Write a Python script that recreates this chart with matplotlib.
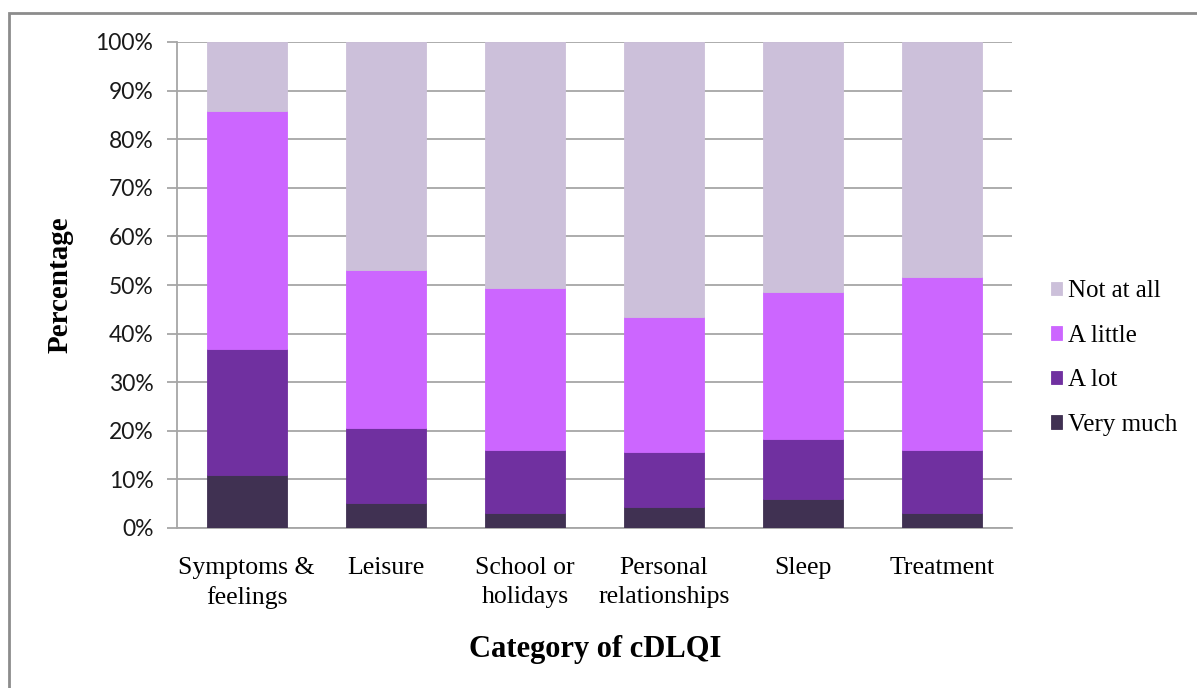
import matplotlib
matplotlib.use("Agg")
import matplotlib.pyplot as plt
import numpy as np
from matplotlib.patches import Rectangle
from matplotlib.ticker import FuncFormatter

categories = ["Symptoms &\nfeelings", "Leisure", "School or\nholidays",
              "Personal\nrelationships", "Sleep", "Treatment"]
series_names = ["Very much", "A lot", "A little", "Not at all"]
very_much = [11.0, 5.2, 3.0, 4.3, 5.9, 3.1]
a_lot = [25.9, 15.4, 13.1, 11.3, 12.5, 13.0]
a_little = [48.8, 32.5, 33.2, 27.9, 30.2, 35.5]
not_at_all = [14.3, 46.9, 50.7, 56.5, 51.4, 48.4]
colors = ["#403152", "#7030A0", "#CC66FF", "#CCC0DA"]

W, H = 1197, 688
fig = plt.figure(figsize=(W / 100, H / 100), dpi=100)
ax = fig.add_axes([177 / W, (H - 528) / H, (1012 - 177) / W, (528 - 42) / H])

serif = ["Liberation Serif", "DejaVu Serif"]
grid_c = "#A6A6A6"

x = np.arange(len(categories))
bottom = np.zeros(len(categories))
handles = []
for name, vals, c in zip(series_names, [very_much, a_lot, a_little, not_at_all], colors):
    vals = np.array(vals)
    b = ax.bar(x, vals, 0.575, bottom=bottom, color=c, edgecolor=c,
               linewidth=0.6, zorder=3, label=name)
    handles.append(b)
    bottom += vals

ax.set_xlim(-0.5, len(categories) - 0.5)
ax.set_ylim(0, 100)
ax.set_yticks(np.arange(0, 101, 10))
ax.yaxis.set_major_formatter(FuncFormatter(lambda v, p: f"{int(v)}%"))
ax.grid(axis="y", color=grid_c, linewidth=1.3, zorder=0)
for s in ["top", "right"]:
    ax.spines[s].set_visible(False)
ax.spines["left"].set_color(grid_c)
ax.spines["left"].set_linewidth(1.3)
ax.spines["bottom"].set_color(grid_c)
ax.spines["bottom"].set_linewidth(1.3)
ax.tick_params(axis="y", length=7, width=1.3, color=grid_c, pad=10,
               labelsize=16.5, labelcolor="#1a1a1a")
ax.tick_params(axis="x", length=0, pad=21)
for lab in ax.get_yticklabels():
    lab.set_family(["Lato", "DejaVu Sans"])
ax.set_xticks(x)
ax.set_xticklabels(categories, fontsize=18.5, family=serif, linespacing=1.4)

fig.text(60 / W, 1 - 285 / H, "Percentage", rotation=90, fontsize=21,
         fontweight="bold", family=serif, ha="center", va="center")
fig.text(595 / W, 1 - 650 / H, "Category of cDLQI", fontsize=22,
         fontweight="bold", family=serif, ha="center", va="center")

leg = fig.legend(handles[::-1], series_names[::-1], loc="center left",
                 bbox_to_anchor=(1051 / W, 1 - 358 / H), frameon=False,
                 borderaxespad=0, borderpad=0,
                 prop={"family": serif, "size": 18}, handlelength=0.45,
                 handleheight=0.45, handletextpad=0.25, labelspacing=0.9)

# outer chart frame
fig.patches.append(Rectangle((9 / W, -0.1), 1.2, 1 - 13 / H + 0.1,
                             transform=fig.transFigure, fill=False,
                             edgecolor="#8C8C8C", linewidth=2))

fig.savefig("out.png", dpi=100)
